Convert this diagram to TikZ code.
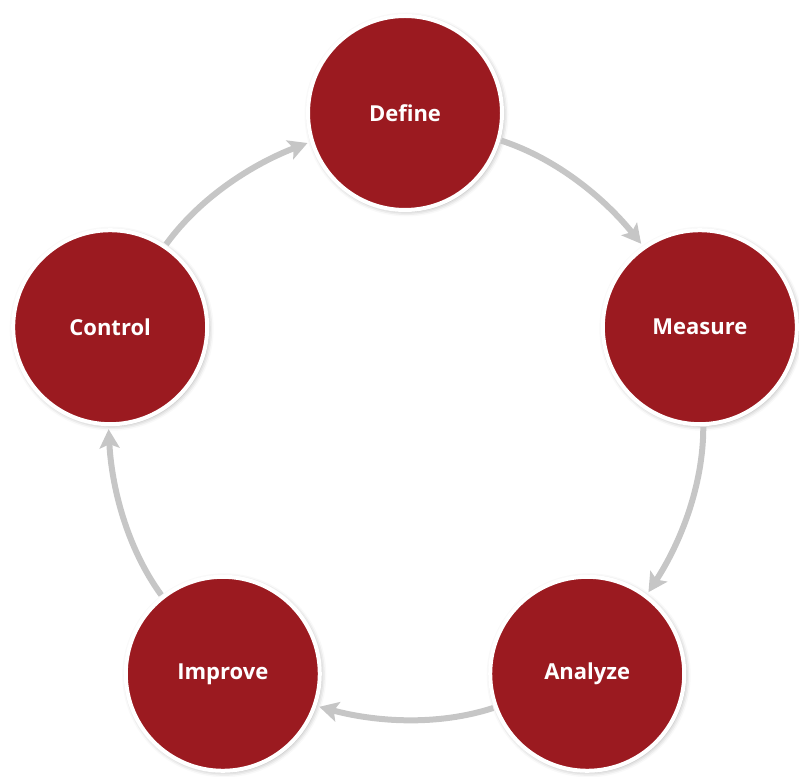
\documentclass[tikz,border=0pt]{standalone}
\usepackage{fontspec}
\setmainfont{Open Sans}
\usepackage{tikz}
\usetikzlibrary{arrows.meta,calc,shadows.blur}
\definecolor{dmaicred}{RGB}{155,26,32}
\definecolor{arrowgrey}{RGB}{198,198,198}

\begin{document}
\begin{tikzpicture}[x=1pt, y=1pt,
    phase/.style={circle, fill=dmaicred, draw=white, line width=4pt,
                  minimum size=194pt, inner sep=0pt, text=white,
                  font=\fontsize{22}{26}\selectfont\bfseries,
                  blur shadow={shadow xshift=1.5pt, shadow yshift=-1.5pt,
                               shadow blur radius=5pt, shadow opacity=35}},
    cyc/.style={-{Stealth[length=19pt, width=20pt, inset=4pt]}, line width=6pt,
                arrowgrey, looseness=0.87, shorten <=1pt, shorten >=3pt}
]
    \useasboundingbox (0,0) rectangle (799,776);
    \coordinate (c) at (405,353);

    \node[phase] (define)  at ($(c)+(90:310)$)   {Define};
    \node[phase] (measure) at ($(c)+(18:310)$)   {Measure};
    \node[phase] (analyze) at ($(c)+(-54:310)$)  {Analyze};
    \node[phase] (improve) at ($(c)+(-126:310)$) {Improve};
    \node[phase] (control) at ($(c)+(162:310)$)  {Control};

    % arcs round the cycle, clockwise
    \draw[cyc] (define.-16)  to[out=-18,  in=129] (measure.125);
    \draw[cyc] (measure.-88) to[out=-90,  in=57]  (analyze.53);
    \draw[cyc] (analyze.-160) to[out=-162, in=-15] (improve.-19);
    \draw[cyc] (improve.128) to[out=126,  in=-87] (control.-91);
    \draw[cyc] (control.56)  to[out=54,   in=201] (define.197);
\end{tikzpicture}
\end{document}
